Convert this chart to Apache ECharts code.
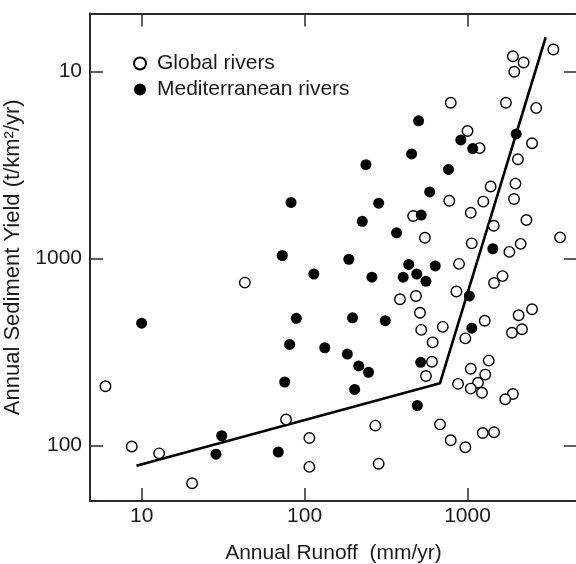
<!DOCTYPE html>
<html><head><meta charset="utf-8">
<script src="https://cdn.jsdelivr.net/npm/echarts@6/dist/echarts.min.js"></script>
<style>html,body{margin:0;padding:0;background:#fff}#c{width:576px;height:564px}</style>
</head><body><div id="c"></div>
<script>
// Global rivers (open circles): runoff (mm/yr) and sediment yield (t/km2/yr)
const globalRunoff = [6.0, 8.7, 12.8, 20.4, 43, 77, 107, 107, 272, 285, 385, 483, 511, 520, 705, 611, 970, 1276, 2490, 2060, 1875, 2160, 605, 556, 1047, 1350, 1285, 1160, 1047, 1227, 875, 1900, 1705, 678, 789, 970, 1240, 1455, 1640, 1455, 855, 887, 1807, 2120, 1062, 3700, 548, 464, 1047, 1450, 2300, 773, 1250, 1930, 1387, 1970, 2040, 2490, 1186, 1000, 789, 1722, 2640, 1936, 2210, 1900, 3365];
const globalYield = [208, 99, 91, 63, 745, 138, 110, 77, 128, 80, 607, 632, 514, 416, 432, 357, 375, 466, 536, 498, 402, 419, 281, 236, 258, 285, 240, 217, 202, 192, 214, 189, 177, 130, 107, 98, 117, 118, 807, 741, 668, 938, 1087, 1200, 1208, 1300, 1294, 1690, 1760, 1500, 1610, 2040, 2020, 2085, 2430, 2520, 3400, 4140, 3900, 4820, 6820, 6820, 6400, 10000, 11200, 12100, 13150];
// Mediterranean rivers (filled circles)
const medRunoff = [10, 31, 28.6, 69, 75.5, 81, 89, 73, 82.6, 114, 133, 183, 215, 247, 203, 197, 313, 187, 259, 403, 488, 556, 436, 634, 516, 492, 1062, 1026, 1430, 226, 285, 520, 367, 586, 764, 238, 454, 501, 910, 1077, 1990];
const medYield = [452, 113, 90, 92.5, 219, 348, 480, 1040, 2000, 828, 334, 309, 267, 247, 200, 483, 466, 993, 796, 796, 828, 757, 931, 914, 279, 164, 425, 632, 1130, 1585, 1980, 1710, 1375, 2275, 3000, 3180, 3630, 5460, 4315, 3880, 4645];
// Broken trend line
const trendRunoff = [9.3, 678, 3020];
const trendYield = [78, 216, 15280];
// Ticks
const xTickValues = [10, 100, 1000];
const xTickLabels = ['10', '100', '1000'];
const yTickValues = [100, 1000, 10000];
const yTickLabels = ['100', '1000', '10'];
const seriesNames = ['Global rivers', 'Mediterranean rivers'];
const xTitle = 'Annual Runoff  (mm/yr)';
const yTitle = 'Annual Sediment Yield (t/km²/yr)';

const FONT = "'Liberation Sans', Arial, Helvetica, sans-serif";
const INK = '#1a1a1a';
const AX = '#2b2b2b';

function labelFor(values, labels) {
  return function (v) {
    for (let i = 0; i < values.length; i++) {
      if (Math.abs(Math.log10(v) - Math.log10(values[i])) < 1e-6) return labels[i];
    }
    return '';
  };
}
function zip(a, b) { return a.map((x, i) => [x, b[i]]); }

const axisCommon = {
  type: 'log', logBase: 10,
  axisLine: { show: true, onZero: false, lineStyle: { color: AX, width: 2 } },
  axisTick: { show: true, inside: true, length: 13, lineStyle: { color: AX, width: 1.5 } },
  splitLine: { show: false }, minorTick: { show: false }, minorSplitLine: { show: false }
};

const chart = echarts.init(document.getElementById('c'), null, { renderer: 'canvas' });
chart.setOption({
  animation: false,
  backgroundColor: '#fff',
  textStyle: { fontFamily: FONT },
  grid: { left: 90, top: 13.5, width: 487, height: 487.5, containLabel: false, outerBoundsMode: 'none' },
  legend: {
    orient: 'vertical', left: 128, top: 48,
    itemWidth: 24, itemHeight: 12, itemGap: 5,
    data: seriesNames,
    textStyle: { fontFamily: FONT, fontSize: 21, color: INK, lineHeight: 21 }
  },
  xAxis: [
    Object.assign({}, axisCommon, {
      position: 'bottom', min: 4.82, max: 4700,
      axisLabel: { show: true, formatter: labelFor(xTickValues, xTickLabels), fontFamily: FONT, fontSize: 21, color: INK, margin: 5 },
      name: xTitle, nameLocation: 'middle', nameGap: 42,
      nameTextStyle: { fontFamily: FONT, fontSize: 21, color: INK }
    }),
    Object.assign({}, axisCommon, {
      position: 'top', min: 4.82, max: 4700, axisLabel: { show: false }
    })
  ],
  yAxis: [
    Object.assign({}, axisCommon, {
      position: 'left', min: 50.6, max: 20470,
      axisLabel: { show: true, formatter: labelFor(yTickValues, yTickLabels), fontFamily: FONT, fontSize: 21, color: INK, margin: 8 },
      name: yTitle, nameLocation: 'middle', nameGap: 47,
      nameTextStyle: { fontFamily: FONT, fontSize: 22, color: INK }
    }),
    Object.assign({}, axisCommon, {
      position: 'right', min: 50.6, max: 20470, axisLabel: { show: false }
    })
  ],
  series: [
    {
      name: 'trend', type: 'line', xAxisIndex: 0, yAxisIndex: 0,
      data: zip(trendRunoff, trendYield), showSymbol: false, symbol: 'none',
      lineStyle: { color: '#000', width: 2.6 }, z: 1, silent: true
    },
    {
      name: seriesNames[0], type: 'scatter', xAxisIndex: 0, yAxisIndex: 0,
      data: zip(globalRunoff, globalYield), symbol: 'circle', symbolSize: 10.5,
      itemStyle: { color: '#fff', borderColor: '#000', borderWidth: 1.4, opacity: 1 }, z: 3
    },
    {
      name: seriesNames[1], type: 'scatter', xAxisIndex: 0, yAxisIndex: 0,
      data: zip(medRunoff, medYield), symbol: 'circle', symbolSize: 11,
      itemStyle: { color: '#000', borderWidth: 0, opacity: 1 }, z: 4
    }
  ]
});
</script>
</body></html>
